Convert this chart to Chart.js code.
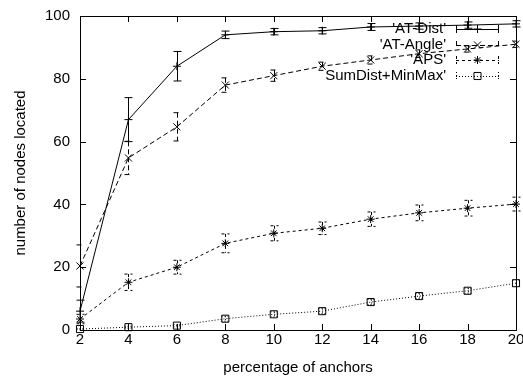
<!DOCTYPE html>
<html>
<head>
<meta charset="utf-8">
<script src="https://cdn.jsdelivr.net/npm/chart.js@4/dist/chart.umd.min.js"></script>
<style>
  body { margin: 0; background: #fff; }
</style>
</head>
<body>
<canvas id="plot" width="523" height="378"></canvas>
<script>
// percentage of anchors
const anchors = [2, 4, 6, 8, 10, 12, 14, 16, 18, 20];

const atDist = [6, 67, 84, 94, 95, 95.3, 96.5, 96.8, 97.1, 97.5];
const atDistErr = [3.5, 7, 4.7, 1.2, 1, 1, 1.1, 1, 1, 1];

const atAngle = [20.4, 54.8, 64.7, 78, 81, 84, 86, 88, 89.5, 91];
const atAngleErr = [6.7, 5.3, 4.5, 2.3, 1.8, 1.3, 1.3, 1.2, 1, 1];

const aps = [3.5, 15.2, 20, 27.6, 30.8, 32.4, 35.3, 37.3, 38.8, 40.1];
const apsErr = [1.5, 2.6, 2.2, 3, 2.4, 2, 2.3, 2.5, 2.5, 2.2];

const sumDist = [0.3, 0.9, 1.4, 3.6, 5, 6, 8.9, 10.8, 12.5, 14.9];
const sumDistErr = [0.2, 0.3, 0.4, 0.8, 0.8, 0.8, 0.8, 0.8, 0.8, 1];

const seriesNames = ["'AT-Dist'", "'AT-Angle'", "'APS'", "SumDist+MinMax'"];

const yTicks = [0, 20, 40, 60, 80, 100];

const FONT = "'Liberation Sans', Arial, Helvetica, sans-serif";
const FSIZE = 15;

function pts(vals) {
  return vals.map((v, i) => ({x: anchors[i], y: v}));
}

function series(label, vals, errs, dash, style, r) {
  return {
    label: label,
    data: pts(vals),
    errors: errs,
    borderColor: '#000',
    borderWidth: 1,
    borderDash: dash,
    pointStyle: style,
    pointRadius: r,
    pointHoverRadius: r,
    pointBorderColor: '#000',
    pointBackgroundColor: 'rgba(0,0,0,0)',
    pointBorderWidth: 1,
    fill: false,
    tension: 0,
    clip: false
  };
}

// simple marker drawing for the legend samples
function marker(ctx, style, x, y, r) {
  ctx.save();
  ctx.setLineDash([]);
  ctx.lineWidth = 1;
  ctx.strokeStyle = '#000';
  ctx.beginPath();
  if (style === 'cross' || style === 'star') {
    ctx.moveTo(x - r, y); ctx.lineTo(x + r, y);
    ctx.moveTo(x, y - r); ctx.lineTo(x, y + r);
  }
  if (style === 'crossRot' || style === 'star') {
    const d = r * Math.SQRT1_2;
    ctx.moveTo(x - d, y - d); ctx.lineTo(x + d, y + d);
    ctx.moveTo(x - d, y + d); ctx.lineTo(x + d, y - d);
  }
  if (style === 'rect') {
    const s = r * Math.SQRT1_2;
    ctx.rect(x - s, y - s, 2 * s, 2 * s);
  }
  ctx.stroke();
  ctx.restore();
}

const gnuplotLook = {
  id: 'gnuplotLook',
  beforeDatasetsDraw(chart) {
    const ctx = chart.ctx;
    const xs = chart.scales.x, ys = chart.scales.y;
    chart.data.datasets.forEach(ds => {
      ctx.save();
      ctx.strokeStyle = '#000';
      ctx.lineWidth = 1;
      ctx.setLineDash(ds.borderDash || []);
      ds.data.forEach((p, i) => {
        const e = ds.errors[i];
        const px = Math.round(xs.getPixelForValue(p.x)) + 0.5;
        const top = ys.getPixelForValue(p.y + e);
        const bot = ys.getPixelForValue(p.y - e);
        ctx.beginPath();
        ctx.moveTo(px, top); ctx.lineTo(px, bot);
        ctx.moveTo(px - 4, top); ctx.lineTo(px + 4, top);
        ctx.moveTo(px - 4, bot); ctx.lineTo(px + 4, bot);
        ctx.stroke();
      });
      ctx.restore();
    });
  },
  afterDraw(chart) {
    const ctx = chart.ctx;
    const a = chart.chartArea;
    const xs = chart.scales.x, ys = chart.scales.y;
    ctx.save();
    ctx.strokeStyle = '#000';
    ctx.lineWidth = 1;
    ctx.setLineDash([]);
    // frame
    ctx.strokeRect(Math.round(a.left) + 0.5, Math.round(a.top) + 0.5,
      Math.round(a.right - a.left), Math.round(a.bottom - a.top));
    // inward ticks on all four sides
    ctx.beginPath();
    anchors.forEach(v => {
      const px = Math.round(xs.getPixelForValue(v)) + 0.5;
      ctx.moveTo(px, a.bottom); ctx.lineTo(px, a.bottom - 6);
      ctx.moveTo(px, a.top); ctx.lineTo(px, a.top + 6);
    });
    yTicks.forEach(v => {
      const py = Math.round(ys.getPixelForValue(v)) + 0.5;
      ctx.moveTo(a.left, py); ctx.lineTo(a.left + 6, py);
      ctx.moveTo(a.right, py); ctx.lineTo(a.right - 6, py);
    });
    ctx.stroke();

    // key, gnuplot style: right-aligned text then a sample
    ctx.font = FSIZE + 'px ' + FONT;
    ctx.fillStyle = '#000';
    ctx.textAlign = 'right';
    ctx.textBaseline = 'middle';
    chart.data.datasets.forEach((ds, i) => {
      const y = Math.round(29 + i * 15.5);
      ctx.fillText(seriesNames[i], 446, y);
      const x0 = 456, x1 = 499;
      ctx.save();
      ctx.setLineDash(ds.borderDash || []);
      ctx.beginPath();
      ctx.moveTo(x0, y + 0.5); ctx.lineTo(x1, y + 0.5);
      ctx.moveTo(x0 + 0.5, y - 4); ctx.lineTo(x0 + 0.5, y + 4);
      ctx.moveTo(x1 - 0.5, y - 4); ctx.lineTo(x1 - 0.5, y + 4);
      ctx.stroke();
      ctx.restore();
      marker(ctx, ds.pointStyle, (x0 + x1) / 2, y, ds.pointRadius);
    });
    ctx.restore();
  }
};

const config = {
  type: 'line',
  data: {
    datasets: [
      series(seriesNames[0], atDist, atDistErr, [], 'cross', 4),
      series(seriesNames[1], atAngle, atAngleErr, [5, 3], 'crossRot', 5),
      series(seriesNames[2], aps, apsErr, [3, 3], 'star', 4),
      series(seriesNames[3], sumDist, sumDistErr, [1, 2], 'rect', 5)
    ]
  },
  options: {
    responsive: false,
    devicePixelRatio: 1,
    animation: false,
    layout: { padding: { left: 0, top: 16, right: 7, bottom: 0 } },
    plugins: {
      legend: { display: false },
      tooltip: { enabled: false }
    },
    scales: {
      x: {
        type: 'linear',
        min: 2,
        max: 20,
        grid: { display: false, drawTicks: false },
        border: { display: false },
        ticks: {
          stepSize: 2,
          padding: 1,
          maxRotation: 0,
          color: '#000',
          font: { family: FONT, size: FSIZE }
        },
        title: {
          display: true,
          text: 'percentage of anchors',
          color: '#000',
          font: { family: FONT, size: FSIZE },
          padding: { top: 0, bottom: 1 }
        },
        afterFit(scale) {
          scale.height = 48;
          scale.paddingLeft = 0;
          scale.paddingRight = 0;
        }
      },
      y: {
        min: 0,
        max: 100,
        grid: { display: false, drawTicks: false },
        border: { display: false },
        ticks: {
          stepSize: 20,
          padding: 10,
          color: '#000',
          font: { family: FONT, size: FSIZE }
        },
        title: {
          display: true,
          text: 'number of nodes located',
          color: '#000',
          font: { family: FONT, size: FSIZE },
          padding: { top: 12, bottom: 0 }
        },
        afterFit(scale) {
          scale.width = 80;
          scale.paddingTop = 0;
          scale.paddingBottom = 0;
        }
      }
    }
  },
  plugins: [gnuplotLook]
};

new Chart(document.getElementById('plot'), config);
</script>
</body>
</html>
